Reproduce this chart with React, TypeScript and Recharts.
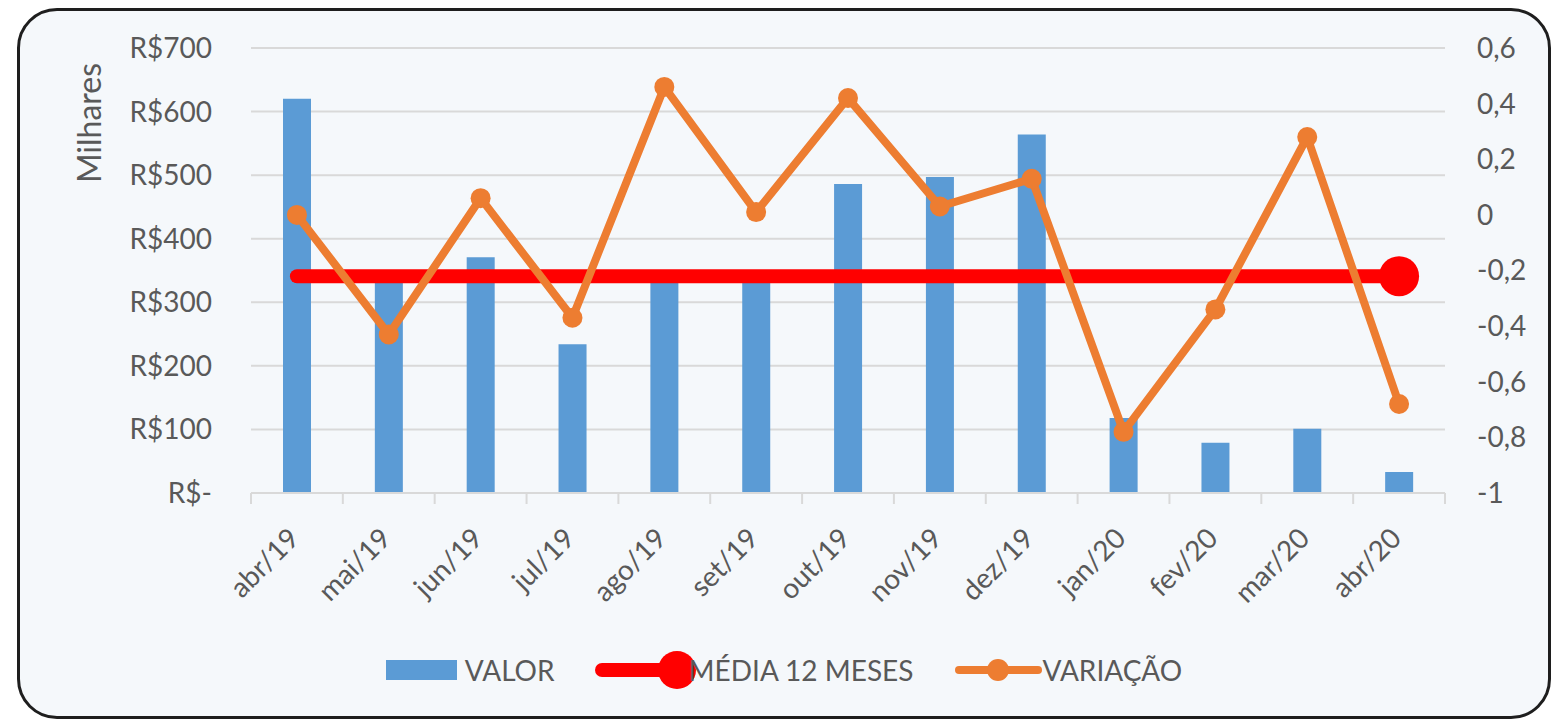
import React from "react";
import {
  ComposedChart,
  Bar,
  Line,
  XAxis,
  YAxis,
  CartesianGrid,
  Legend,
} from "recharts";

// months on the category axis
const meses = [
  "abr/19", "mai/19", "jun/19", "jul/19", "ago/19", "set/19", "out/19",
  "nov/19", "dez/19", "jan/20", "fev/20", "mar/20", "abr/20",
];
// R$ thousands (left axis)
const valor = [620, 336, 371, 234, 342, 338, 486, 497, 564, 118, 79, 101, 33];
// 12-month average (left axis)
const media12 = [341, 341, 341, 341, 341, 341, 341, 341, 341, 341, 341, 341, 341];
// monthly change (right axis)
const variacao = [0.0, -0.43, 0.06, -0.37, 0.46, 0.01, 0.42, 0.03, 0.13, -0.78, -0.34, 0.28, -0.68];

const leftTicks = [0, 100, 200, 300, 400, 500, 600, 700];
const rightTicks = [-1, -0.8, -0.6, -0.4, -0.2, 0, 0.2, 0.4, 0.6];

const data = meses.map((mes, i) => ({
  mes,
  valor: valor[i],
  media: media12[i],
  variacao: variacao[i],
}));

const BLUE = "#5b9bd5";
const RED = "#ff0000";
const ORANGE = "#ed7d31";
const GRID = "#d9d9d9";
const TEXT = "#595959";
const FONT = "Lato, 'Open Sans', sans-serif";

const fmtLeft = (v: number) => (v === 0 ? "R$-" : `R$${v}`);
const fmtRight = (v: number) =>
  Number.isInteger(v) ? String(v) : v.toFixed(1).replace(".", ",");

// Excel-style x tick: tick marks on category boundaries, rotated label
function MonthTick(props: any) {
  const { x, y, payload, index } = props;
  const half = payload?.offset || 46;
  const last = index === meses.length - 1;
  return (
    <g>
      <line x1={x - half} x2={x - half} y1={y} y2={y + 11} stroke={GRID} strokeWidth={2} />
      {last && (
        <line x1={x + half} x2={x + half} y1={y} y2={y + 11} stroke={GRID} strokeWidth={2} />
      )}
      <text
        x={x + 4}
        y={y + 47}
        textAnchor="end"
        transform={`rotate(-45 ${x + 4} ${y + 47})`}
        fill={TEXT}
        fontSize={28}
        fontFamily={FONT}
      >
        {payload.value}
      </text>
    </g>
  );
}

function MediaDot(props: any) {
  const { cx, cy, index } = props;
  if (index !== media12.length - 1) return <g key={`md-${index}`} />;
  return <circle key={`md-${index}`} cx={cx} cy={cy} r={20} fill={RED} />;
}

function LegendContent() {
  const txt: React.CSSProperties = { color: TEXT, fontSize: 28, fontFamily: FONT, lineHeight: "36px" };
  return (
    <div style={{ display: "flex", justifyContent: "center", alignItems: "center", height: 36 }}>
      <svg width={71} height={20} style={{ display: "block", marginRight: 8 }}>
        <rect width={71} height={20} fill={BLUE} />
      </svg>
      <span style={txt}>VALOR</span>
      <svg width={94} height={40} style={{ display: "block", marginLeft: 40, overflow: "visible" }}>
        <line x1={7} x2={82} y1={20} y2={20} stroke={RED} strokeWidth={14} strokeLinecap="round" />
        <circle cx={82} cy={20} r={19} fill={RED} />
      </svg>
      <span style={txt}>MÉDIA 12 MESES</span>
      <svg width={87} height={26} style={{ display: "block", marginLeft: 42 }}>
        <line x1={4} x2={83} y1={13} y2={13} stroke={ORANGE} strokeWidth={8} strokeLinecap="round" />
        <circle cx={43} cy={13} r={11} fill={ORANGE} />
      </svg>
      <span style={txt}>VARIAÇÃO</span>
    </div>
  );
}

export default function App() {
  return (
    <div
      style={{
        marginLeft: 9,
        width: 1534,
        height: 711,
        boxSizing: "border-box",
        border: "3px solid #1e1e1e",
        borderRadius: 40,
        background: "#f5f8fb",
        fontFamily: FONT,
        overflow: "hidden",
      }}
    >
      <ComposedChart
        width={1528}
        height={705}
        data={data}
        margin={{ top: 37, right: 23, left: 111, bottom: 28 }}
      >
        <CartesianGrid yAxisId="left" vertical={false} stroke={GRID} strokeWidth={2} />
        <XAxis
          dataKey="mes"
          interval={0}
          height={159}
          tickSize={0}
          tickMargin={0}
          tickLine={false}
          axisLine={{ stroke: GRID, strokeWidth: 2 }}
          tick={<MonthTick />}
        />
        <YAxis
          yAxisId="left"
          orientation="left"
          width={120}
          domain={[0, 700]}
          ticks={leftTicks}
          tickFormatter={fmtLeft}
          axisLine={false}
          tickLine={false}
          tickSize={0}
          tickMargin={39}
          tick={{ fill: TEXT, fontSize: 28, fontFamily: FONT }}
          label={{
            content: () => (
              <text
                x={68}
                y={112}
                transform="rotate(-90 68 112)"
                textAnchor="middle"
                dominantBaseline="central"
                fill={TEXT}
                fontSize={32}
                fontFamily={FONT}
              >
                Milhares
              </text>
            ),
          }}
        />
        <YAxis
          yAxisId="right"
          orientation="right"
          width={80}
          domain={[-1, 0.6]}
          ticks={rightTicks}
          tickFormatter={fmtRight}
          axisLine={false}
          tickLine={false}
          tickSize={0}
          tickMargin={32}
          tick={{ fill: TEXT, fontSize: 28, fontFamily: FONT, textAnchor: "start" }}
        />
        <Legend verticalAlign="bottom" content={<LegendContent />} wrapperStyle={{ left: 0, width: 1528 }} />
        <Bar yAxisId="left" dataKey="valor" name="VALOR" fill={BLUE} barSize={28} isAnimationActive={false} />
        <Line
          yAxisId="left"
          dataKey="media"
          name="MÉDIA 12 MESES"
          stroke={RED}
          strokeWidth={14}
          strokeLinecap="round"
          dot={(p: any) => <MediaDot {...p} />}
          activeDot={false}
          isAnimationActive={false}
        />
        <Line
          yAxisId="right"
          dataKey="variacao"
          name="VARIAÇÃO"
          stroke={ORANGE}
          strokeWidth={8}
          strokeLinejoin="round"
          dot={{ r: 10, fill: ORANGE, stroke: ORANGE, strokeWidth: 0 }}
          activeDot={false}
          isAnimationActive={false}
        />
      </ComposedChart>
    </div>
  );
}
